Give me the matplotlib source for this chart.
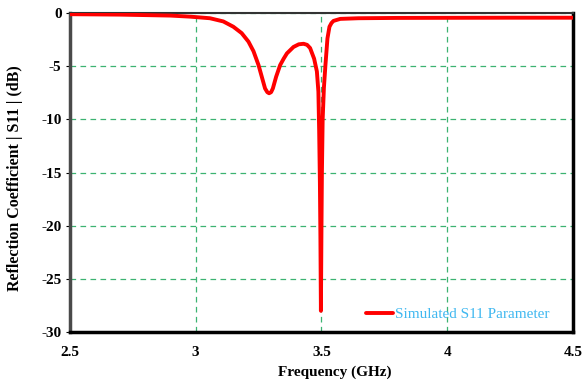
import numpy as np
import matplotlib
matplotlib.use("Agg")
import matplotlib.pyplot as plt

# S11 values
freq = [2.50, 2.70, 2.90, 2.978, 3.057, 3.110, 3.150, 3.183, 3.210, 3.230,
        3.250, 3.263, 3.276, 3.285, 3.292, 3.300, 3.307, 3.320, 3.336, 3.350,
        3.363, 3.389, 3.410, 3.429, 3.443, 3.455, 3.471, 3.482, 3.488, 3.491,
        3.494, 3.496, 3.498, 3.500, 3.502, 3.505, 3.510, 3.516, 3.524, 3.532,
        3.540, 3.548, 3.575, 3.647, 3.80, 4.00, 4.25, 4.50]
s11 = [-0.12, -0.16, -0.25, -0.35, -0.5, -0.8, -1.3, -1.9, -2.7, -3.6,
       -4.9, -6.0, -7.1, -7.45, -7.55, -7.45, -7.1, -6.0, -4.9, -4.3,
       -3.8, -3.2, -2.95, -2.9, -3.0, -3.3, -4.3, -5.5, -7.4, -11.0,
       -16.0, -21.0, -28.0, -21.0, -15.0, -10.0, -7.0, -4.9, -2.4, -1.3,
       -0.95, -0.75, -0.56, -0.5, -0.47, -0.46, -0.45, -0.45]

xticks = [2.5, 3, 3.5, 4, 4.5]
xtick_labels = ["2.5", "3", "3.5", "4", "4.5"]
yticks = [0, -5, -10, -15, -20, -25, -30]

plt.rcParams['font.family'] = ['Liberation Serif', 'DejaVu Serif']
plt.rcParams['axes.unicode_minus'] = False

fig = plt.figure(figsize=(5.82, 3.80), dpi=100)
ax = fig.add_axes([0.120, 0.126, 0.8645, 0.840])

ax.plot(freq, s11, color='red', lw=2.8, label='Simulated S11 Parameter',
        solid_capstyle='round', solid_joinstyle='round', zorder=3)

ax.set_xlim(2.5, 4.5)
ax.set_ylim(-30, 0)
ax.set_xticks(xticks)
ax.set_xticklabels(xtick_labels)
ax.set_yticks(yticks)

ax.grid(True, color='#3CB371', linestyle=(0, (4.5, 3.5)), linewidth=0.9)
ax.tick_params(axis='x', length=0, pad=10, labelsize=11)
ax.tick_params(axis='y', length=3, pad=3, labelsize=11)
for lab in ax.get_xticklabels() + ax.get_yticklabels():
    lab.set_fontweight('bold')

ax.spines['left'].set_color('#4a4a4a')
ax.spines['left'].set_linewidth(2.5)
ax.spines['bottom'].set_linewidth(2.5)
ax.spines['right'].set_linewidth(2.5)
ax.spines['top'].set_linewidth(1.5)
ax.spines['top'].set_color('#333333')

ax.set_xlabel('Frequency (GHz)', fontweight='bold', fontsize=11)
ax.xaxis.set_label_coords(0.527, -0.106)
ax.set_ylabel('Reflection Coefficient | S11 | (dB)', fontweight='bold',
              fontsize=11.5)
ax.yaxis.set_label_coords(-0.093, 0.481)

leg = ax.legend(loc='lower right', frameon=False, fontsize=11,
                handlelength=1.8, handletextpad=0.15, borderpad=0,
                bbox_to_anchor=(0.954, 0.035), borderaxespad=0)
for t in leg.get_texts():
    t.set_color('#40B8F0')

fig.savefig('out.png', dpi=100)
